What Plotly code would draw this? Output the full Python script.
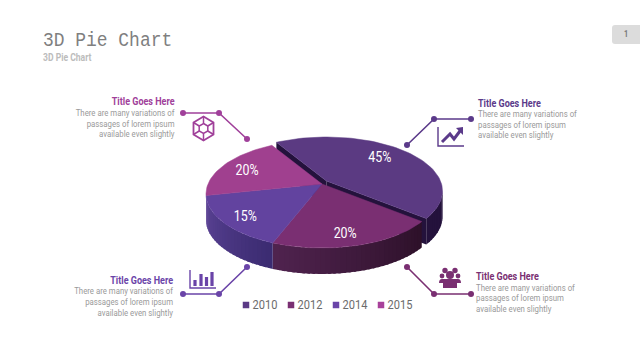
import math
import plotly.graph_objects as go

categories = ["2010", "2012", "2014", "2015"]
values = [45, 20, 15, 20]
value_labels = ["45%", "20%", "15%", "20%"]
top_colors = ["#5b3a82", "#7a2f72", "#62439f", "#a0408f"]
legend_colors = ["#5b3a86", "#7a2f72", "#6a44a8", "#a8419a"]
wall_near = ["#24123c", "#50234f", "#5c4496", "#5c4496"]
wall_far = ["#24123c", "#2c1028", "#3a2a70", "#3a2a70"]
callout_title = "Title Goes Here"
callout_lines = ["There are many variations of", "passages of lorem ipsum", "available even slightly"]

CX, CY, A, B, H = 322.0, 194.0, 116.0, 54.0, 26.0
APEX = (322.0, 184.0)
EXPLODE = (4.5, -3.0)
START = -34.0
K = 15.0
EDGE_TWEAK = [0.0, 4.5, 0.0, 0.0, 0.0]
TEXT_DY = 1.0

fig = go.Figure()


def persp(theta):
    return theta - K * math.sin(math.radians(theta))


def rim(t, ox=0.0, oy=0.0):
    r = math.radians(t)
    return CX + ox + A * math.sin(r), CY + oy - B * math.cos(r)


def poly(pts, color, lw=0.0):
    fig.add_trace(go.Scatter(x=[p[0] for p in pts] + [pts[0][0]], y=[p[1] for p in pts] + [pts[0][1]],
                             mode="lines", fill="toself", fillcolor=color,
                             line=dict(color=color, width=lw), hoverinfo="skip", showlegend=False))


def label(x, y, text, size, color, anchor="center", family="Roboto", bold=False):
    pos = {"center": "middle center", "left": "middle right", "right": "middle left"}[anchor]
    fig.add_trace(go.Scatter(x=[x], y=[y + TEXT_DY], mode="text", text=["<b>%s</b>" % text if bold else text],
                             textposition=pos, hoverinfo="skip", showlegend=False,
                             textfont=dict(family=family, size=size, color=color)))


def mix(c1, c2, f):
    a = [int(c1[i:i + 2], 16) for i in (1, 3, 5)]
    b = [int(c2[i:i + 2], 16) for i in (1, 3, 5)]
    return "#%02x%02x%02x" % tuple(round(x + (y - x) * f) for x, y in zip(a, b))


total = sum(values)
edges = [START]
for v in values:
    edges.append(edges[-1] + 360.0 * v / total)
edge_t = [persp(e) + d for e, d in zip(edges, EDGE_TWEAK)]
spans = [(edge_t[i], edge_t[i + 1]) for i in range(len(values))]


def wall(i, t1, t2, ox=0.0, oy=0.0):
    t1, t2 = max(t1, 90.0), min(t2, 270.0)
    if t2 <= t1:
        return
    n = max(2, int((t2 - t1) / 2.5))
    step = (t2 - t1) / n
    for j in range(n):
        a0 = t1 + step * j
        a1 = a0 + step
        f = 1 - (j + 0.5) / n
        col = mix(wall_near[i], wall_far[i], f)
        p0, p1 = rim(max(t1, a0 - 0.5 * step), ox, oy), rim(a1, ox, oy)
        poly([p0, p1, (p1[0], p1[1] + H), (p0[0], p0[1] + H)], col)


def top(i, ox=0.0, oy=0.0):
    t1, t2 = spans[i]
    n = max(6, int((t2 - t1) / 2))
    pts = [(APEX[0] + ox, APEX[1] + oy)]
    pts += [rim(t1 + (t2 - t1) * j / n, ox, oy) for j in range(n + 1)]
    poly(pts, top_colors[i], 0.5)


ex, ey = EXPLODE
t1, t2 = spans[0]
wall(0, t1, t2, ex, ey)
for tt in (t1, t2):
    p = rim(tt, ex, ey)
    ap = (APEX[0] + ex, APEX[1] + ey)
    poly([ap, p, (p[0], p[1] + H), (ap[0], ap[1] + H)], wall_near[0])

for i in range(1, len(values)):
    wall(i, spans[i][0], spans[i][1])
for i in range(1, len(values)):
    top(i)
top(0, ex, ey)

nudge = [(0, 0), (-8, 0), (0, 0), (0, 0)]
for i, lab in enumerate(value_labels):
    tm = persp((edges[i] + edges[i + 1]) / 2)
    ox, oy = EXPLODE if i == 0 else (0, 0)
    r = math.radians(tm)
    x = CX + ox + 0.78 * A * math.sin(r) + nudge[i][0]
    y = CY + oy - 0.78 * B * math.cos(r) + nudge[i][1]
    label(x, y, lab, 14.6, "#ffffff")

legend_x = [246, 291, 336, 381]
for c, col, lx in zip(categories, legend_colors, legend_x):
    fig.add_trace(go.Scatter(x=[lx], y=[305], mode="markers", hoverinfo="skip", showlegend=False,
                             marker=dict(symbol="square", size=6.5, color=col)))
    label(lx + 6.5, 305, c, 13, "#6b6b6b", "left")

PINK, PURPLE, VIOLET, PLUM = "#a0409a", "#5b3a8a", "#6a44a8", "#7a2f72"
callouts = [
    (PINK, [(183, 113), (219, 113), (247, 139)], 174.5, "right", [101.5, 113, 123.5, 134]),
    (PURPLE, [(407, 145), (434, 119), (471, 119)], 478, "left", [103, 114, 124.5, 135]),
    (VIOLET, [(183, 294), (219, 294), (247, 267)], 173, "right", [280, 291, 301.5, 312.5]),
    (PLUM, [(407, 267), (434, 294), (471, 294)], 476, "left", [276, 287.5, 298, 309]),
]
for col, pts, tx, anchor, ys in callouts:
    fig.add_trace(go.Scatter(x=[p[0] for p in pts], y=[p[1] for p in pts], mode="lines+markers",
                             line=dict(color=col, width=1.6), marker=dict(color=col, size=6),
                             hoverinfo="skip", showlegend=False))
    label(tx, ys[0], callout_title, 10.6, col, anchor, bold=True)
    for ln, yy in zip(callout_lines, ys[1:]):
        label(tx, yy, ln, 9.2, "#9a9a9a", anchor)

shapes = []


def path(d, line=None, fill=None, w=1.6, layer="above"):
    s = dict(type="path", xref="x", yref="y", layer=layer, path=d,
             line=dict(color=line or "rgba(0,0,0,0)", width=w if line else 0))
    if fill:
        s["fillcolor"] = fill
    shapes.append(s)


def circle(cx, cy, r, col):
    shapes.append(dict(type="circle", xref="x", yref="y", x0=cx - r, x1=cx + r, y0=cy - r, y1=cy + r,
                       fillcolor=col, line=dict(width=0)))


cx, cy = 203.5, 128.5
outer = [(cx + 11.5 * math.sin(math.radians(a)), cy - 12 * math.cos(math.radians(a))) for a in range(0, 360, 60)]
inner = [(cx + 5 * math.sin(math.radians(a)), cy - 5 * math.cos(math.radians(a))) for a in range(0, 360, 60)]
path("M" + " L".join("%.1f,%.1f" % p for p in outer) + " Z", line=PINK, w=1.8)
path("M" + " L".join("%.1f,%.1f" % p for p in inner) + " Z", line=PINK, w=1.5)
for o, n in zip(outer, inner):
    path("M%.1f,%.1f L%.1f,%.1f" % (o + n), line=PINK, w=1.5)

path("M438,127 L438,146 L464,146", line=PURPLE, w=1.4)
path("M442,142 L450,134 L454,139 L460,131", line=PURPLE, w=3)
path("M456,128 L463,127 L463,135 Z", fill=PURPLE)

path("M190,270 L190,288 L216,288", line=VIOLET, w=1.4)
for bx, by in [(195, 280), (201, 274), (206.5, 277), (212, 272)]:
    shapes.append(dict(type="rect", xref="x", yref="y", x0=bx - 1.6, x1=bx + 1.6, y0=by, y1=286,
                       fillcolor=VIOLET, line=dict(width=0)))

for px, py, r in [(445, 270.5, 2.7), (455, 270.5, 2.7), (442, 276, 2.4), (458, 276, 2.4), (450, 275, 4)]:
    circle(px, py, r, PLUM)
path("M439,283 Q439,279 442,279 L458,279 Q461,279 461,283 L457,283 L457,288 L443,288 L443,283 Z", fill=PLUM)

path("M640,25 L615,25 Q612,25 612,28 L612,41 Q612,44 615,44 L640,44 Z", fill="#dcdcdc", layer="below")

label(626, 34, "1", 8.5, "#777777", bold=True)
label(43, 39.5, "3D Pie Chart", 20.5, "#7f7f7f", "left", family="Liberation Mono")
label(43, 57, "3D Pie Chart", 10.1, "#bcbcbc", "left", bold=True)

fig.update_layout(width=640, height=360, margin=dict(l=0, r=0, t=0, b=0), paper_bgcolor="#ffffff",
                  plot_bgcolor="#ffffff", showlegend=False, shapes=shapes,
                  xaxis=dict(range=[0, 640], visible=False, fixedrange=True),
                  yaxis=dict(range=[360, 0], visible=False, fixedrange=True))

POST = """
document.body.style.margin = '0';
function narrow() {
  document.querySelectorAll('.textpoint text').forEach(function (t) {
    if (t.dataset.narrow) return;
    t.dataset.narrow = '1';
    var mono = (t.style.fontFamily || '').indexOf('Mono') >= 0;
    t.setAttribute('lengthAdjust', 'spacingAndGlyphs');
    t.setAttribute('textLength', t.getComputedTextLength() * (mono ? 0.875 : 0.85));
  });
}
narrow();
"""
fig.write_html("out.html", config={"displayModeBar": False, "staticPlot": True}, post_script=POST)
